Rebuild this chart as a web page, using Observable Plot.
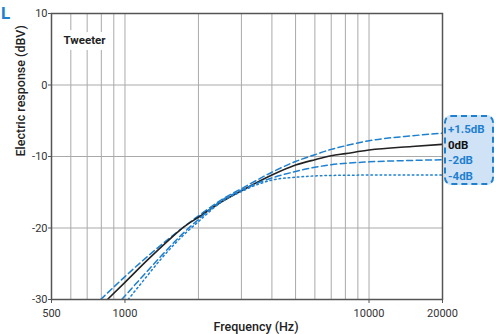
<!DOCTYPE html>
<html>
<head>
<meta charset="utf-8">
<script src="https://cdn.jsdelivr.net/npm/d3@7"></script>
<script src="https://cdn.jsdelivr.net/npm/@observablehq/plot@0.6"></script>
<style>
  html, body { margin: 0; padding: 0; background: #fff; }
  #wrap { position: relative; width: 496px; height: 334px; font-family: Roboto, sans-serif; }
  #tag { position: absolute; left: 1px; top: 3px; font: 700 17px Roboto, sans-serif; color: #1f80d0; }
  #legend { position: absolute; left: 444px; top: 115px; width: 44px; height: 66px;
            background: #cfe2f6; border: 2.5px dashed #1f80d0; border-radius: 7px;
            padding: 0 0 0 2px; box-sizing: content-box; }
  #legend div { font: 700 11.5px Roboto, sans-serif; line-height: 15.5px; white-space: nowrap; }
  #legend div:first-child { margin-top: 5px; }
</style>
</head>
<body>
<div id="wrap">
  <div id="chart"></div>
  <div id="tag">L</div>
  <div id="legend"></div>
</div>
<script>
// ---- data ----
const seriesNames = ["+1.5dB", "0dB", "-2dB", "-4dB"];
const seriesColors = ["#1f80d0", "#222222", "#1f80d0", "#1f80d0"];

const freqPlus15 = [795, 1000, 1235, 1500, 2000, 2500, 3000, 4000, 5000, 6000, 7000, 8000, 10000, 15000, 20000];
const valPlus15  = [-30, -26.8, -24.0, -21.6, -18.3, -16.0, -14.5, -12.2, -10.7, -9.75, -9.0, -8.5, -7.8, -7.1, -6.75];

const freq0 = [847, 1000, 1235, 1500, 1750, 2000, 2500, 3000, 4000, 5000, 6000, 7000, 8000, 10000, 15000, 20000];
const val0  = [-30, -27.6, -24.5, -21.8, -19.8, -18.5, -16.3, -14.8, -12.6, -11.2, -10.45, -9.9, -9.6, -9.1, -8.6, -8.3];

const freqMinus2 = [970, 1200, 1400, 1700, 2000, 2500, 3000, 3500, 4000, 5000, 6000, 7000, 10000, 15000, 20000];
const valMinus2  = [-30, -26.5, -24.0, -21.0, -18.8, -16.1, -14.7, -13.7, -13.0, -12.1, -11.5, -11.15, -10.75, -10.55, -10.45];

const freqMinus4 = [1030, 1200, 1400, 1700, 2000, 2500, 3000, 3500, 4000, 5000, 7000, 10000, 20000];
const valMinus4  = [-30, -27.2, -24.4, -21.3, -19.1, -16.3, -14.9, -13.9, -13.3, -12.9, -12.65, -12.6, -12.6];

const xTicks = [500, 1000, 10000, 20000];
const xGrid = [600, 700, 800, 900, 1000, 2000, 3000, 4000, 5000, 6000, 7000, 8000, 9000, 10000];
const yTicks = [-30, -20, -10, 0, 10];
const yGrid = [-20, -10, 0];

const xLabel = "Frequency (Hz)";
const yLabel = "Electric response (dBV)";
const panelLabel = "Tweeter";

// ---- build rows ----
const seriesData = [
  [freqPlus15, valPlus15],
  [freq0, val0],
  [freqMinus2, valMinus2],
  [freqMinus4, valMinus4]
];
const rows = seriesData.map(([fs, vs], i) => fs.map((f, j) => ({series: seriesNames[i], f, v: vs[j]})));

const dashes = ["6,3.5", null, "6,3.5", "1.6,3"];

const chart = Plot.plot({
  width: 496,
  height: 334,
  marginLeft: 51,
  marginRight: 54,
  marginTop: 13,
  marginBottom: 35,
  style: {fontFamily: "Roboto, sans-serif", fontSize: "11px", color: "#333", background: "transparent", overflow: "visible"},
  x: {type: "log", domain: [500, 20000]},
  y: {domain: [-30, 10]},
  marks: [
    Plot.ruleX(xGrid, {stroke: "#aaa", strokeWidth: 1}),
    Plot.ruleY(yGrid, {stroke: "#aaa", strokeWidth: 1}),
    Plot.text([panelLabel], {frameAnchor: "top-left", dx: 12, dy: 22, textAnchor: "start",
      fontWeight: 700, fontSize: 11.5, fill: "#222", stroke: "white", strokeWidth: 12, strokeLinejoin: "round"}),
    ...rows.map((r, i) => Plot.line(r, {x: "f", y: "v", curve: "monotone-x",
      stroke: seriesColors[i], strokeWidth: i === 1 ? 1.6 : 1.5,
      strokeDasharray: dashes[i] || undefined, clip: true})),
    Plot.frame({stroke: "#555", strokeWidth: 1.5}),
    Plot.axisX({ticks: xTicks, tickFormat: d => String(d), tickSize: 4, tickPadding: 6, label: null, stroke: "#555", fill: "#333", fontSize: 11}),
    Plot.axisY({ticks: yTicks, tickFormat: d => String(d), tickSize: 3, tickPadding: 1, label: null, stroke: "#555", fill: "#333", fontSize: 11}),
    Plot.text([xLabel], {frameAnchor: "bottom", dy: 31, dx: 9, fontSize: 12.5, fontWeight: 500, fill: "#222"}),
    Plot.text([yLabel], {frameAnchor: "left", dx: -31, rotate: -90, fontSize: 12.5, fontWeight: 500, fill: "#222"})
  ]
});
document.getElementById("chart").appendChild(chart);

const legend = document.getElementById("legend");
seriesNames.forEach((name, i) => {
  const d = document.createElement("div");
  d.textContent = name;
  d.style.color = seriesColors[i] === "#222222" ? "#111" : seriesColors[i];
  legend.appendChild(d);
});
</script>
</body>
</html>
